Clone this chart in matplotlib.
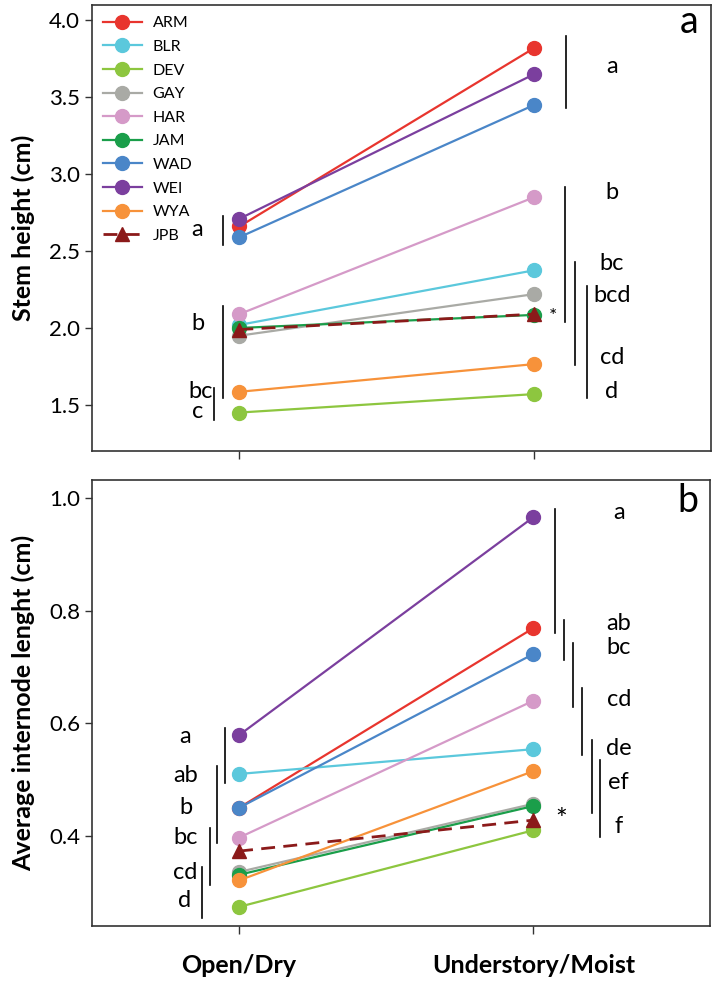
import matplotlib
matplotlib.use("Agg")
import matplotlib.pyplot as plt

plt.rcParams['font.family'] = ['Lato', 'DejaVu Sans']

sites = ["ARM", "BLR", "DEV", "GAY", "HAR", "JAM", "WAD", "WEI", "WYA", "JPB"]
colors = ["#e8352e", "#5bc8dc", "#8dc63f", "#a9aaa5", "#d59ac8", "#1a9e4a",
          "#4a86c8", "#7b3f9e", "#f7923a", "#8b1a1a"]
conditions = ["Open/Dry", "Understory/Moist"]

# Stem height (cm): [Open/Dry, Understory/Moist]
stem_open = [2.66, 2.02, 1.45, 1.95, 2.09, 2.00, 2.59, 2.71, 1.585, 1.99]
stem_under = [3.82, 2.375, 1.57, 2.22, 2.85, 2.085, 3.45, 3.65, 1.765, 2.09]

# Average internode length (cm)
inter_open = [0.45, 0.51, 0.274, 0.336, 0.397, 0.331, 0.45, 0.579, 0.321, 0.373]
inter_under = [0.769, 0.554, 0.41, 0.457, 0.64, 0.453, 0.723, 0.966, 0.515, 0.428]

# Significance groupings: (label, label x, label y) and bars (x, y0, y1)
stem_left_labels = [("a", 0.858, 2.64), ("b", 0.858, 2.03), ("bc", 0.868, 1.59), ("c", 0.858, 1.46)]
stem_left_bars = [(0.946, 2.54, 2.73), (0.946, 1.545, 2.14), (0.915, 1.40, 1.61)]
stem_right_labels = [("a", 2.264, 3.70), ("b", 2.264, 2.88), ("bc", 2.264, 2.42),
                     ("bcd", 2.264, 2.21), ("cd", 2.264, 1.805), ("d", 2.264, 1.585)]
stem_right_bars = [(2.108, 3.43, 3.90), (2.105, 2.04, 2.915), (2.14, 1.76, 2.43), (2.18, 1.545, 2.27)]

inter_left_labels = [("a", 0.815, 0.576), ("ab", 0.818, 0.508), ("b", 0.818, 0.45),
                     ("bc", 0.818, 0.397), ("cd", 0.818, 0.335), ("d", 0.815, 0.285)]
inter_left_bars = [(0.953, 0.494, 0.592), (0.925, 0.388, 0.524), (0.902, 0.313, 0.414), (0.875, 0.2545, 0.345)]
inter_right_labels = [("a", 2.29, 0.975), ("ab", 2.29, 0.778), ("bc", 2.29, 0.734), ("cd", 2.29, 0.643),
                      ("de", 2.29, 0.556), ("ef", 2.29, 0.494), ("f", 2.29, 0.416)]
inter_right_bars = [(2.075, 0.76, 0.98), (2.105, 0.712, 0.783), (2.136, 0.629, 0.743),
                    (2.166, 0.544, 0.663), (2.2, 0.44, 0.57), (2.227, 0.398, 0.535)]

fig = plt.figure(figsize=(7.17, 9.83), dpi=100)
ax1 = fig.add_axes([0.1283, 0.5412, 0.8633, 0.4537])
ax2 = fig.add_axes([0.1283, 0.058, 0.8619, 0.4537])

xs = [1, 2]

def draw(ax, vo, vu):
    for s, c, o, u in zip(sites, colors, vo, vu):
        if s == "JPB":
            ax.plot(xs, [o, u], color=c, lw=2, ls=(0, (5, 3)), marker='^', ms=10,
                    label=s, zorder=4)
        else:
            ax.plot(xs, [o, u], color=c, lw=1.6, marker='o', ms=10, label=s, zorder=3)

def annotate(ax, labels, bars, fs=17):
    for t, x, y in labels:
        ax.text(x, y, t, ha='center', va='center', fontsize=fs, color='black')
    for x, y0, y1 in bars:
        ax.plot([x, x], [y0, y1], color='black', lw=1.2)

draw(ax1, stem_open, stem_under)
draw(ax2, inter_open, inter_under)

annotate(ax1, stem_left_labels, stem_left_bars)
annotate(ax1, stem_right_labels, stem_right_bars)
annotate(ax2, inter_left_labels, inter_left_bars)
annotate(ax2, inter_right_labels, inter_right_bars)

ax1.text(2.064, 2.075, "*", ha='center', va='center', fontsize=14)
ax2.text(2.095, 0.426, "*", ha='center', va='center', fontsize=20)

ax1.set_xlim(0.5, 2.6)
ax1.set_ylim(1.2, 4.1)
ax1.set_yticks([1.5, 2.0, 2.5, 3.0, 3.5, 4.0])
ax1.set_yticklabels(["1.5", "2.0", "2.5", "3.0", "3.5", "4.0"])
ax1.set_xticks(xs)
ax1.set_xticklabels(["", ""])
ax1.set_ylabel("Stem height (cm)", fontsize=18, fontweight='bold', labelpad=10)
ax1.text(0.965, 0.962, "a", transform=ax1.transAxes, fontsize=27, ha='center', va='center')

ax2.set_xlim(0.5, 2.6)
ax2.set_ylim(0.24, 1.032)
ax2.set_yticks([0.4, 0.6, 0.8, 1.0])
ax2.set_yticklabels(["0.4", "0.6", "0.8", "1.0"])
ax2.set_xticks(xs)
ax2.set_xticklabels(conditions, fontsize=18, fontweight='bold')
ax2.set_ylabel("Average internode lenght (cm)", fontsize=18, fontweight='bold', labelpad=10)
ax2.text(0.965, 0.952, "b", transform=ax2.transAxes, fontsize=27, ha='center', va='center')

for ax in (ax1, ax2):
    for sp in ax.spines.values():
        sp.set_color('#333333')
        sp.set_linewidth(1.2)
    ax.tick_params(axis='y', labelsize=16, length=5, width=1, color='#333333', direction='out')
    ax.tick_params(axis='x', length=6, width=1, color='#333333', direction='out', pad=14)

ax1.legend(loc='upper left', frameon=False, fontsize=11.5, handlelength=2.4,
           labelspacing=0.59, borderaxespad=0.5, handletextpad=0.7,
           borderpad=0.2)

fig.savefig("out.png", dpi=100)
